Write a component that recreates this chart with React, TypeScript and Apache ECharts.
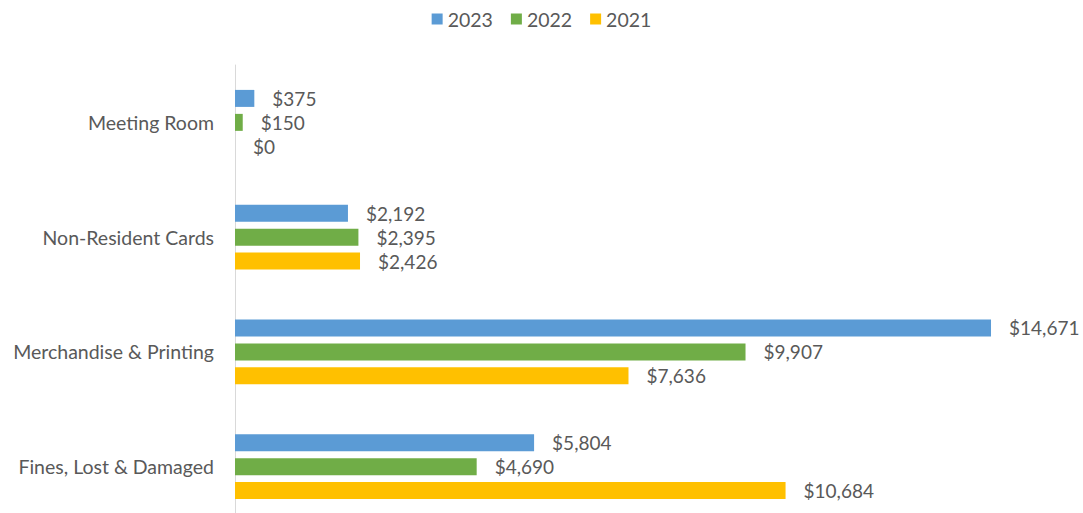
import React, { useEffect, useRef } from "react";
import * as echarts from "echarts";

const categories = ["Meeting Room", "Non-Resident Cards", "Merchandise & Printing", "Fines, Lost & Damaged"];
const seriesNames = ["2023", "2022", "2021"];
const values2023 = [375, 2192, 14671, 5804];
const values2022 = [150, 2395, 9907, 4690];
const values2021 = [0, 2426, 7636, 10684];
const colors = ["#5B9BD5", "#70AD47", "#FFC000"];

const FONT = "Lato";
const TEXT = "#595959";

export default function App() {
  const ref = useRef<HTMLDivElement>(null);
  useEffect(() => {
    if (!ref.current) return;
    const chart = echarts.init(ref.current, null, { renderer: "svg" });
    const data = [values2023, values2022, values2021];
    chart.setOption({
      animation: false,
      textStyle: { fontFamily: FONT },
      legend: {
        top: 4,
        left: "center",
        icon: "rect",
        itemWidth: 11,
        itemHeight: 11,
        itemGap: 18,
        textStyle: { fontFamily: FONT, fontSize: 19.5, color: TEXT },
        data: seriesNames,
      },
      grid: { left: 235, right: 23.5, top: 65, height: 459, containLabel: false },
      xAxis: {
        type: "value",
        min: 0,
        max: 16000,
        axisLine: { show: false },
        axisTick: { show: false },
        axisLabel: { show: false },
        splitLine: { show: false },
      },
      yAxis: {
        type: "category",
        inverse: true,
        data: categories,
        axisLine: { show: true, lineStyle: { color: "#D9D9D9", width: 1 } },
        axisTick: { show: false },
        axisLabel: { fontFamily: FONT, fontSize: 19.5, color: TEXT, margin: 21 },
      },
      series: seriesNames.map((name, i) => ({
        name,
        type: "bar",
        data: data[i],
        barWidth: 17,
        barGap: "41%",
        itemStyle: { color: colors[i] },
        label: {
          show: true,
          position: "right",
          distance: 18,
          fontFamily: FONT,
          fontSize: 19,
          color: TEXT,
          formatter: (p: any) => "$" + Number(p.value).toLocaleString("en-US"),
        },
      })),
    });
    return () => chart.dispose();
  }, []);
  return (
    <div
      style={{ position: "fixed", left: 0, top: 0, width: 1083, height: 513, overflow: "hidden", background: "#fff" }}
    >
      <div ref={ref} style={{ width: 1083, height: 530 }} />
    </div>
  );
}
